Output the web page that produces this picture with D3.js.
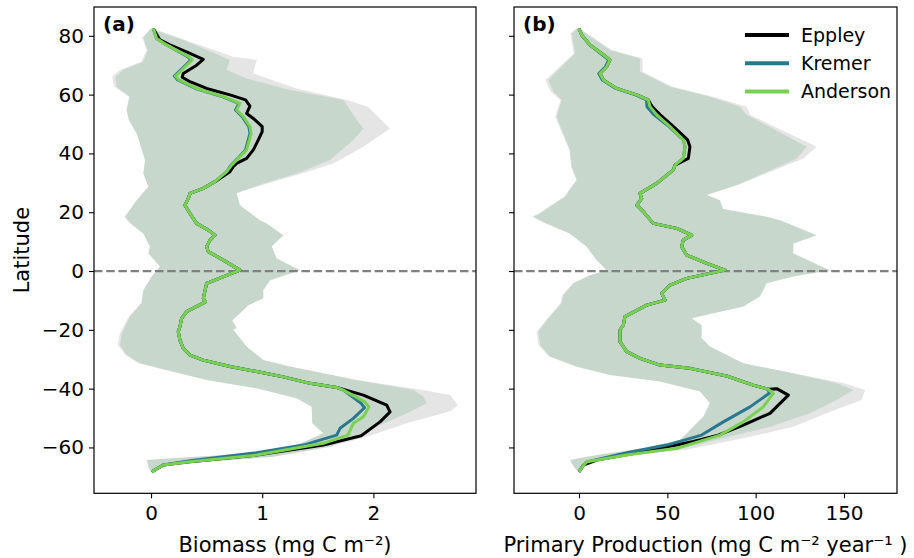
<!DOCTYPE html>
<html><head><meta charset="utf-8">
<script src="https://cdn.jsdelivr.net/npm/d3@7"></script>
<style>body{margin:0;background:#fff}svg text{font-family:"DejaVu Sans",sans-serif}</style>
</head><body><svg id="c" width="914" height="558"></svg>
<script>
// ---------------- Data ----------------
const seriesNames = ["Eppley", "Kremer", "Anderson"];
const seriesColors = ["#000000", "#2a788e", "#7ad151"];
const latTicks = [-60, -40, -20, 0, 20, 40, 60, 80];
const biomassTicks = [0, 1, 2];
const ppTicks = [0, 50, 100, 150];

// shared middle segment of all biomass curves
const bioMidLat = [30.4, 28.1, 26.4, 24.7, 22.4, 19.6, 16.2, 13.9, 12.2, 10.5, 8.3, 6.6, 3.7, 0.3, -4.2, -9.3, -10.5, -13.8, -16.1, -18.9, -20.6, -23.5, -26.3, -28.6, -30.3, -32.5, -34.2, -36, -38.2, -39.6];
const bioMid = [0.575, 0.47, 0.35, 0.335, 0.305, 0.35, 0.41, 0.515, 0.575, 0.53, 0.50, 0.515, 0.65, 0.80, 0.50, 0.47, 0.49, 0.32, 0.275, 0.26, 0.245, 0.26, 0.29, 0.35, 0.47, 0.71, 0.95, 1.19, 1.43, 1.67];

// (a) Biomass, Eppley
const bioEppleyTopLat = [82.5, 78.6, 76.9, 74, 72, 70, 67.2, 65.9, 64.4, 62.1, 59.9, 58.2, 56.1, 53.6, 51.9, 49.1, 47.4, 44.6, 41.2, 38.3, 36.6, 35.5, 33.8];
const bioEppleyTop = [0.02, 0.08, 0.17, 0.35, 0.47, 0.41, 0.29, 0.28, 0.35, 0.50, 0.71, 0.85, 0.89, 0.86, 0.92, 1.0, 1.0, 0.965, 0.92, 0.86, 0.77, 0.74, 0.71];
const bioEppleyBotLat = [-42.2, -45.6, -47.9, -51.3, -56, -59.2, -62.6, -64.9, -66, -68.3];
const bioEppleyBot = [1.91, 2.12, 2.15, 2.06, 1.89, 1.55, 0.95, 0.35, 0.11, 0.006];

// (a) Biomass, Kremer & Anderson upper part (nearly identical)
const bioKATopLat = [82.5, 79.1, 76.9, 72.9, 71.8, 70, 66.3, 65, 62.1, 59.3, 57, 54.8, 52.5, 49.1, 46.8, 41.2, 38.3, 36, 33.8];
const bioKremerTop = [0.02, 0.05, 0.14, 0.33, 0.36, 0.31, 0.21, 0.24, 0.40, 0.64, 0.79, 0.76, 0.82, 0.88, 0.89, 0.85, 0.78, 0.72, 0.68];
const bioAndersonTop = [0.02, 0.05, 0.14, 0.34, 0.37, 0.32, 0.22, 0.25, 0.41, 0.65, 0.80, 0.77, 0.83, 0.89, 0.90, 0.86, 0.785, 0.725, 0.68];
const bioKremerBotLat = [-40.5, -45, -46.5, -50.1, -53.5, -55.8, -59.2, -61.8, -64.5, -66, -68.3];
const bioKremerBot = [1.73, 1.89, 1.92, 1.82, 1.70, 1.67, 1.37, 0.95, 0.35, 0.11, 0.006];
const bioAndersonBotLat = [-40.5, -44.4, -46.2, -49.6, -51.8, -55.8, -58.6, -62.6, -64.9, -66, -68.3];
const bioAndersonBot = [1.73, 1.92, 1.96, 1.91, 1.82, 1.77, 1.55, 0.95, 0.35, 0.11, 0.006];

// (a) spread bands
const bioBandHiLat = [82.5, 81.6, 78.6, 71.8, 68.4, 65.5, 61.6, 58.2, 54.8, 51.4, 48.5, 44.6, 37.8, 33.2, 29.8, 26.4, 22.4, 17.3, 16.2, 12.2, 8.3, 4.3, 0.3, -3.1, -6.5, -9.3, -11.6, -15.5, -16.7, -19.5, -20, -25.7, -30.3, -32.5, -37.1, -40.5, -42.8, -45, -47.9, -50.9, -55.8, -59.8, -63.2, -64.9, -66, -68.3];
const bioBandHi = [0.03, 0.05, 0.29, 0.71, 0.68, 0.86, 1.25, 1.73, 1.79, 1.85, 1.91, 1.82, 1.61, 1.31, 1.01, 0.77, 0.80, 0.98, 1.04, 1.19, 1.085, 1.13, 1.34, 1.07, 1.01, 1.01, 0.875, 0.77, 0.73, 0.77, 0.74, 0.86, 1.01, 1.25, 1.85, 2.36, 2.45, 2.48, 2.33, 2.15, 1.85, 1.61, 1.10, 0.50, 0.15, 0.01];
const bioBandLoLat = [82.5, 79.4, 77.4, 75, 71.2, 68.4, 66.1, 62.7, 59.3, 54.8, 51.4, 46.8, 43.4, 37.8, 33.2, 28.7, 24.1, 18.5, 16.5, 12.8, 8.3, 6, 1.5, -1.9, -6.5, -11, -15.5, -21.2, -25.2, -28.6, -31.4, -33.7, -37.1, -39.9, -43.3, -46.2, -51.8, -55.2, -60.3, -62.6, -63.7, -64.3, -66.5, -68.3];
const bioBandLo = [0.0, -0.07, -0.054, -0.03, -0.07, -0.25, -0.32, -0.31, -0.19, -0.22, -0.20, -0.13, -0.10, -0.054, -0.07, -0.024, -0.13, -0.23, -0.19, -0.07, -0.01, -0.024, 0.08, 0.006, -0.07, -0.084, -0.19, -0.26, -0.28, -0.22, -0.10, 0.14, 0.50, 0.95, 1.31, 1.445, 1.45, 1.55, 1.25, 0.65, 0.20, -0.04, -0.024, 0.0];
const bioEppleyBandHiLat = [82.5, 81.6, 72.9, 71.8, 67.2, 62.1, 58.2, 55.9, 48.5, 42.3, 36.6, 32.7, 27, 26.4, 22.4, 17.3, 16.2, 12.2, 8.3, 4.3, 0.3, -3.1, -6.5, -9.3, -11.6, -15.5, -16.7, -19.5, -20, -25.7, -30.3, -32.5, -37.1, -40.5, -42.2, -45.6, -47.6, -51.8, -56.4, -59.8, -63.2, -64.9, -66, -68.3];
const bioEppleyBandHi = [0.03, 0.08, 0.74, 0.95, 0.92, 1.31, 1.76, 1.95, 2.15, 1.91, 1.64, 1.31, 0.80, 0.77, 0.80, 0.98, 1.04, 1.19, 1.085, 1.13, 1.34, 1.07, 1.01, 1.01, 0.875, 0.77, 0.73, 0.77, 0.74, 0.86, 1.01, 1.25, 1.85, 2.45, 2.69, 2.76, 2.70, 2.30, 1.94, 1.61, 1.10, 0.50, 0.15, 0.01];
const bioEppleyBandLo = [0.0, -0.08, -0.06, -0.04, -0.09, -0.28, -0.35, -0.33, -0.20, -0.22, -0.20, -0.13, -0.10, -0.054, -0.07, -0.024, -0.13, -0.24, -0.20, -0.07, -0.01, -0.024, 0.08, 0.006, -0.07, -0.09, -0.20, -0.28, -0.30, -0.23, -0.11, 0.13, 0.50, 0.95, 1.31, 1.445, 1.45, 1.55, 1.25, 0.65, 0.20, -0.04, -0.024, 0.0];

// (b) Primary production
const ppMidLat = [36, 34.4, 29.8, 26.4, 24.7, 22.4, 20.2, 16.2, 14.5, 12.2, 10.5, 8.3, 5.4, 2.6, 0.3, -0.8, -2.5, -4.8, -7.6, -9.9, -11.6, -15.5, -18.4, -20, -24, -27.4, -29.7, -32, -33.1, -35.7, -38.8, -40.2];
const ppMid = [54.3, 53.4, 44, 34.5, 35.5, 32.7, 36.4, 42, 55.3, 63.8, 59, 58.1, 61, 72.3, 82.6, 74.1, 61, 51.5, 46.8, 48.7, 38.3, 26, 25.1, 23.2, 23.2, 27, 34.5, 45.8, 62.8, 83.6, 98.6, 107.1];
const ppTopLat = [82.5, 80.3, 76.9, 74, 71.8, 69.5, 67.2, 65, 62.1, 59.9, 58.2, 55.9, 53.1, 49.1, 44.6, 42.3, 38.3];
const ppEppleyTop = [0, 1.5, 6.2, 12.8, 17.5, 15.7, 11.9, 13.8, 21.3, 32.7, 39.2, 41.5, 46, 53.5, 61.5, 62.8, 61.9];
const ppKremerTop = [0, 1.5, 6.2, 12.3, 16.8, 15, 11.2, 13.2, 20.8, 32, 38.2, 38.5, 42.5, 51, 59, 60, 59];
const ppAndersonTop = [0, 1.5, 6.2, 12.8, 17.5, 15.7, 11.9, 13.8, 21.3, 32.7, 39.2, 40.2, 44, 51.5, 59, 60, 59];
const ppEppleyBotLat = [-40, -42.2, -48.4, -52.4, -55.8, -58, -61.5, -64.3, -66, -68.3];
const ppEppleyBot = [111.9, 118.5, 108.1, 93, 78.8, 64.7, 36.4, 10, 2.5, 0];
const ppKremerBotLat = [-41.6, -46.2, -51.3, -55.8, -59.2, -61.8, -64.9, -66.5, -68.3];
const ppKremerBot = [107.7, 96.8, 81.7, 69.4, 49.6, 27, 4.4, 2, 0];
const ppAndersonBotLat = [-41.6, -46.2, -51.3, -55.8, -60.3, -62.6, -64.9, -66.5, -68.3];
const ppAndersonBot = [110, 104.3, 93, 79.8, 55.3, 27, 4.4, 2, 0];

const ppBandHiLat = [82.5, 81.6, 75.2, 72.3, 67.8, 62.7, 59.3, 55.9, 53.1, 50.2, 42.3, 38.3, 33.2, 29.3, 25.9, 24.1, 21.1, 18.5, 17.3, 12.2, 9.4, 6, 0.3, -1.9, -4.2, -8.7, -12.1, -16.1, -18.4, -22.9, -25.7, -31.4, -34.8, -38.2, -40.5, -43.9, -48.4, -53, -56.9, -60.9, -63.2, -66, -68.3];
const ppBandHi = [0.5, 2, 17.5, 34.5, 34.5, 51.5, 74.1, 91.1, 94.9, 104.3, 128.9, 123.2, 104.3, 89.2, 72.3, 79.8, 81.6, 106.2, 113.8, 134.5, 121.3, 121.3, 142, 121.3, 106.2, 102.4, 93, 63.8, 69.4, 69.4, 74.1, 93, 121.3, 145.8, 155.2, 145.8, 130.7, 108.1, 81.7, 55.3, 17.5, 3, 0.5];
const ppEppleyBandHi = [0.5, 2.5, 18.5, 36, 36, 53, 76, 95, 97, 107, 134.5, 127, 106, 90, 72.3, 79.8, 81.6, 106.2, 113.8, 134.5, 121.3, 121.3, 142, 121.3, 106.2, 102.4, 93, 63.8, 69.4, 69.4, 74.1, 93, 121.3, 150, 162, 160, 140, 121.3, 93, 60, 18, 3, 0.5];
const ppBandLoLat = [82.5, 80.8, 74, 67.8, 65, 61, 58.2, 52.5, 46.8, 41.2, 35.5, 31, 25.3, 19.6, 18.5, 16.2, 12.8, 8.3, 3.7, 0.3, -1.4, -4.2, -8.2, -11, -15.5, -20.6, -25.2, -29.1, -32.5, -35.4, -37.6, -41, -45, -49.6, -53.5, -57.5, -60.3, -62.6, -64.3, -66.5, -68.3];
const ppBandLo = [-1, -4.1, -2.3, -12.6, -17.4, -14.5, -9.8, -12.6, -8.9, -5.1, -4.1, -1.3, -7.9, -22, -25.9, -18.3, -5.1, 4.4, 10, 15.7, 6.2, -3.2, -8.9, -9.8, -16.4, -23, -22, -16.4, -1.3, 17.5, 45.8, 68.5, 74.1, 70.3, 63.8, 57.2, 36.4, 10, -5.1, -3, -0.5];
const ppEppleyBandLo = [-1.5, -5, -3, -14, -19, -16, -10.5, -13.5, -9.5, -5.5, -4.5, -1.5, -8.5, -23, -26.5, -19, -5.5, 4, 10, 15.7, 6.2, -3.5, -9.5, -10.5, -17, -24, -23, -17, -2, 17.5, 45.8, 68.5, 74.1, 70.3, 63.8, 57.2, 36.4, 10, -5.1, -3, -0.5];
const bioLabel = ["Biomass (mg C m", "⁻²", ")"];
const ppLabel = ["Primary Production (mg C m", "⁻²", " year", "⁻¹", " )"];

// ---------------- Drawing ----------------
const svg = d3.select("#c");
const yTop = 7, yBot = 493.3;
const ys = d3.scaleLinear().domain([-75.6, 89.8]).range([yBot, yTop]);
const xA = d3.scaleLinear().domain([-0.513, 2.923]).range([94, 476]);
const xB = d3.scaleLinear().domain([-36.8, 180]).range([514, 897]);
const TICK_FS = 20, LABEL_FS = 21, LEG_FS = 19;
const fmt = d3.format("d");

function pts(lats, vals) { return lats.map((l, i) => [vals[i], l]); }

function panel(id, xs, cfg) {
  const g = svg.append("g");
  const [x0, x1] = xs.range();
  const clipId = "clip" + id;
  svg.append("clipPath").attr("id", clipId).append("rect")
    .attr("x", x0).attr("y", yTop).attr("width", x1 - x0).attr("height", yBot - yTop);
  const plot = g.append("g").attr("clip-path", `url(#${clipId})`);
  const line = d3.line().x(d => xs(d[0])).y(d => ys(d[1]));

  cfg.bands.forEach((b, i) => {
    const poly = pts(b.hiLat, b.hi).concat(pts(b.loLat, b.lo).reverse());
    plot.append("path").attr("d", line(poly) + "Z")
      .attr("fill", seriesColors[i]).attr("fill-opacity", 0.1).attr("stroke", "none");
  });

  plot.append("line").attr("x1", x0).attr("x2", x1).attr("y1", ys(0)).attr("y2", ys(0))
    .attr("stroke", "#808080").attr("stroke-width", 2.2).attr("stroke-dasharray", "8.5,3.7");

  cfg.lines.forEach((s, i) => {
    plot.append("path").attr("d", line(s))
      .attr("fill", "none").attr("stroke", seriesColors[i]).attr("stroke-width", 3)
      .attr("stroke-linejoin", "round").attr("stroke-linecap", "butt");
  });

  const ya = d3.axisLeft(ys).tickValues(latTicks).tickSize(5).tickPadding(5)
    .tickFormat(cfg.showY ? fmt : "");
  const gy = g.append("g").attr("transform", `translate(${x0},0)`).call(ya);
  const gx = g.append("g").attr("transform", `translate(0,${yBot})`)
    .call(d3.axisBottom(xs).tickValues(cfg.ticks).tickFormat(fmt).tickSize(5).tickPadding(8));
  [gx, gy].forEach(a => {
    a.select(".domain").remove();
    a.selectAll(".tick line").attr("stroke", "#000").attr("stroke-width", 1.1);
    a.selectAll(".tick text").attr("font-size", TICK_FS).attr("fill", "#000")
      .style("font-family", '"DejaVu Sans", sans-serif');
  });

  g.append("rect").attr("x", x0).attr("y", yTop).attr("width", x1 - x0).attr("height", yBot - yTop)
    .attr("fill", "none").attr("stroke", "#000").attr("stroke-width", 1.2);

  g.append("text").attr("x", x0 + 9).attr("y", 31).attr("font-size", 20)
    .attr("font-weight", "bold").text(cfg.tag);

  const lab = g.append("text").attr("x", (x0 + x1) / 2).attr("y", 552)
    .attr("text-anchor", "middle").attr("font-size", LABEL_FS);
  cfg.label.forEach(t => lab.append("tspan").text(t));
}

panel("a", xA, {
  tag: "(a)", showY: true, ticks: biomassTicks, label: bioLabel,
  bands: [
    { hiLat: bioEppleyBandHiLat, hi: bioEppleyBandHi, loLat: bioBandLoLat, lo: bioEppleyBandLo },
    { hiLat: bioBandHiLat, hi: bioBandHi, loLat: bioBandLoLat, lo: bioBandLo },
    { hiLat: bioBandHiLat, hi: bioBandHi, loLat: bioBandLoLat, lo: bioBandLo }
  ],
  lines: [
    pts(bioEppleyTopLat, bioEppleyTop).concat(pts(bioMidLat, bioMid), pts(bioEppleyBotLat, bioEppleyBot)),
    pts(bioKATopLat, bioKremerTop).concat(pts(bioMidLat, bioMid), pts(bioKremerBotLat, bioKremerBot)),
    pts(bioKATopLat, bioAndersonTop).concat(pts(bioMidLat, bioMid), pts(bioAndersonBotLat, bioAndersonBot))
  ]
});

panel("b", xB, {
  tag: "(b)", showY: false, ticks: ppTicks, label: ppLabel,
  bands: [
    { hiLat: ppBandHiLat, hi: ppEppleyBandHi, loLat: ppBandLoLat, lo: ppEppleyBandLo },
    { hiLat: ppBandHiLat, hi: ppBandHi, loLat: ppBandLoLat, lo: ppBandLo },
    { hiLat: ppBandHiLat, hi: ppBandHi, loLat: ppBandLoLat, lo: ppBandLo }
  ],
  lines: [
    pts(ppTopLat, ppEppleyTop).concat(pts(ppMidLat, ppMid), pts(ppEppleyBotLat, ppEppleyBot)),
    pts(ppTopLat, ppKremerTop).concat(pts(ppMidLat, ppMid), pts(ppKremerBotLat, ppKremerBot)),
    pts(ppTopLat, ppAndersonTop).concat(pts(ppMidLat, ppMid), pts(ppAndersonBotLat, ppAndersonBot))
  ]
});

svg.append("text").attr("transform", `translate(29,${(yTop + yBot) / 2}) rotate(-90)`)
  .attr("text-anchor", "middle").attr("font-size", LABEL_FS).text("Latitude");

const leg = svg.append("g");
seriesNames.forEach((n, i) => {
  const y = 35 + i * 28.3;
  leg.append("line").attr("x1", 745).attr("x2", 789).attr("y1", y).attr("y2", y)
    .attr("stroke", seriesColors[i]).attr("stroke-width", 4);
  leg.append("text").attr("x", 801).attr("y", y).attr("dy", "0.35em")
    .attr("font-size", LEG_FS).text(n);
});
</script></body></html>
